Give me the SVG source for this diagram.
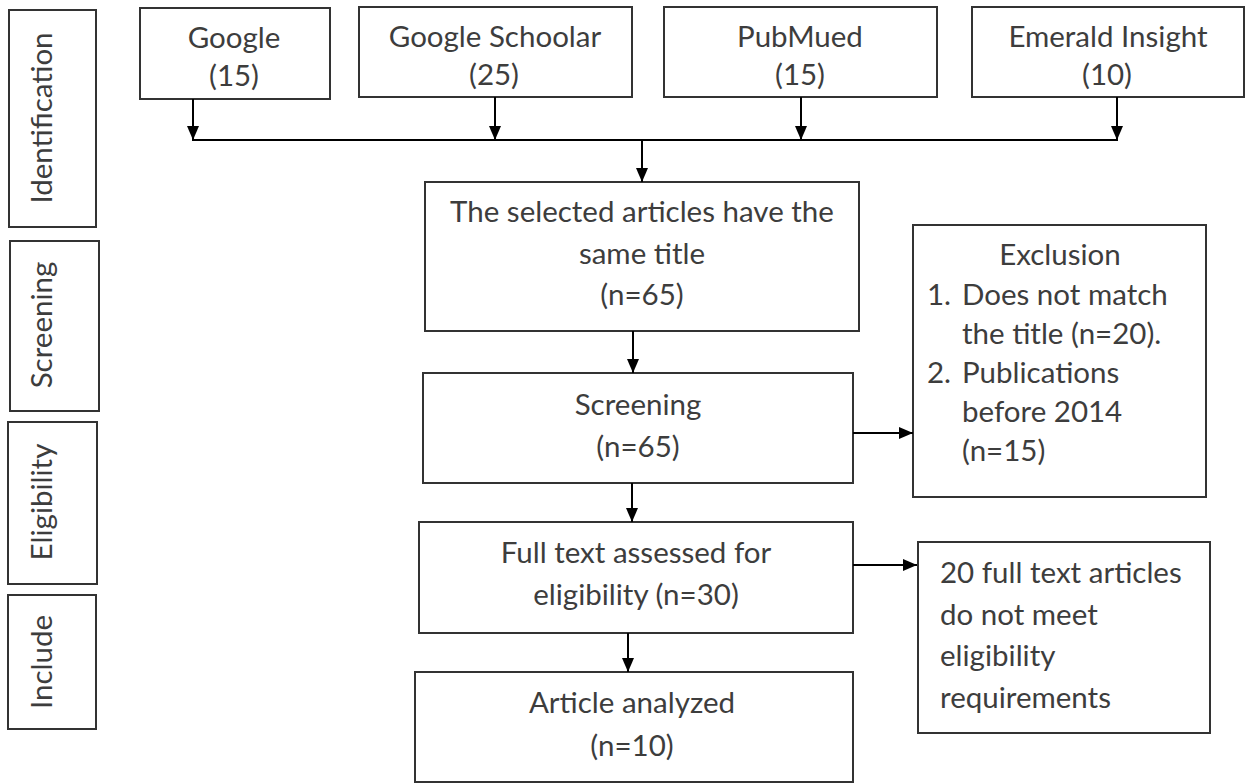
<svg xmlns="http://www.w3.org/2000/svg" width="1248" height="783" viewBox="0 0 1248 783">
<defs>
<style>
.box{fill:#fff;stroke:#333;stroke-width:2}
.t{font-family:Lato,"Open Sans","Liberation Sans",sans-serif;font-size:29.5px;fill:#3d3d3d}
.c{text-anchor:middle}
.ln{stroke:#000;stroke-width:2;fill:none}
.ar{marker-end:url(#ah)}
</style>
<marker id="ah" markerUnits="userSpaceOnUse" markerWidth="14" markerHeight="14" viewBox="0 0 14 14" refX="14" refY="7" orient="auto">
<path d="M0,1 L14,7 L0,13 Z" fill="#000"/>
</marker>
</defs>
<rect width="1248" height="783" fill="#fff"/>
<g id="stage-identification"><rect class="box" x="9" y="10" width="87" height="217"/><text class="t c" transform="translate(52,118) rotate(-90)">Identification</text></g>
<g id="stage-screening"><rect class="box" x="10" y="241" width="89" height="170"/><text class="t c" transform="translate(52,325) rotate(-90)">Screening</text></g>
<g id="stage-eligibility"><rect class="box" x="8" y="422" width="89" height="162"/><text class="t c" transform="translate(52,502) rotate(-90)">Eligibility</text></g>
<g id="stage-include"><rect class="box" x="8" y="595" width="88" height="134"/><text class="t c" transform="translate(52,662) rotate(-90)">Include</text></g>
<g id="google"><rect class="box" x="140" y="8" width="190" height="91"/><text class="t c" x="234" y="48">Google</text><text class="t c" x="234" y="86">(15)</text></g>
<g id="google-schoolar"><rect class="box" x="359" y="7" width="273" height="90"/><text class="t c" x="495" y="47">Google Schoolar</text><text class="t c" x="494" y="85">(25)</text></g>
<g id="pubmued"><rect class="box" x="664" y="7" width="273" height="90"/><text class="t c" x="800" y="47">PubMued</text><text class="t c" x="800" y="85">(15)</text></g>
<g id="emerald"><rect class="box" x="972" y="7" width="272" height="90"/><text class="t c" x="1108" y="47">Emerald Insight</text><text class="t c" x="1107" y="85">(10)</text></g>
<g id="selected"><rect class="box" x="425" y="182" width="434" height="149"/><text class="t c" x="642" y="222">The selected articles have the</text><text class="t c" x="642" y="264">same title</text><text class="t c" x="642" y="305">(n=65)</text></g>
<g id="screening"><rect class="box" x="423" y="373" width="430" height="110"/><text class="t c" x="638" y="415">Screening</text><text class="t c" x="638" y="457">(n=65)</text></g>
<g id="exclusion"><rect class="box" x="913" y="225" width="293" height="272"/><text class="t c" x="1060" y="265">Exclusion</text><text class="t" x="927" y="305">1.</text><text class="t" x="962" y="305">Does not match</text><text class="t" x="962" y="344">the title (n=20).</text><text class="t" x="927" y="383">2.</text><text class="t" x="962" y="383">Publications</text><text class="t" x="962" y="422">before 2014</text><text class="t" x="962" y="461">(n=15)</text></g>
<g id="fulltext"><rect class="box" x="419" y="522" width="434" height="111"/><text class="t c" x="636" y="563">Full text assessed for</text><text class="t c" x="636" y="605">eligibility (n=30)</text></g>
<g id="not-eligible"><rect class="box" x="918" y="542" width="292" height="191"/><text class="t" x="940" y="583">20 full text articles</text><text class="t" x="940" y="624.5">do not meet</text><text class="t" x="940" y="666">eligibility</text><text class="t" x="940" y="707.5">requirements</text></g>
<g id="analyzed"><rect class="box" x="415" y="672" width="438" height="110"/><text class="t c" x="632" y="713">Article analyzed</text><text class="t c" x="632" y="756">(n=10)</text></g>
<g id="connectors">
<line class="ln ar" x1="193" y1="99" x2="193" y2="140"/>
<line class="ln ar" x1="495" y1="97" x2="495" y2="140"/>
<line class="ln ar" x1="801" y1="97" x2="801" y2="140"/>
<line class="ln ar" x1="1117" y1="97" x2="1117" y2="140"/>
<line class="ln" x1="192" y1="140" x2="1118" y2="140"/>
<line class="ln ar" x1="642" y1="140" x2="642" y2="182"/>
<line class="ln ar" x1="633" y1="331" x2="633" y2="373"/>
<line class="ln ar" x1="853" y1="433" x2="913" y2="433"/>
<line class="ln ar" x1="632" y1="483" x2="632" y2="522"/>
<line class="ln ar" x1="853" y1="565" x2="917" y2="565"/>
<line class="ln ar" x1="628" y1="633" x2="628" y2="672"/>
</g>
</svg>
